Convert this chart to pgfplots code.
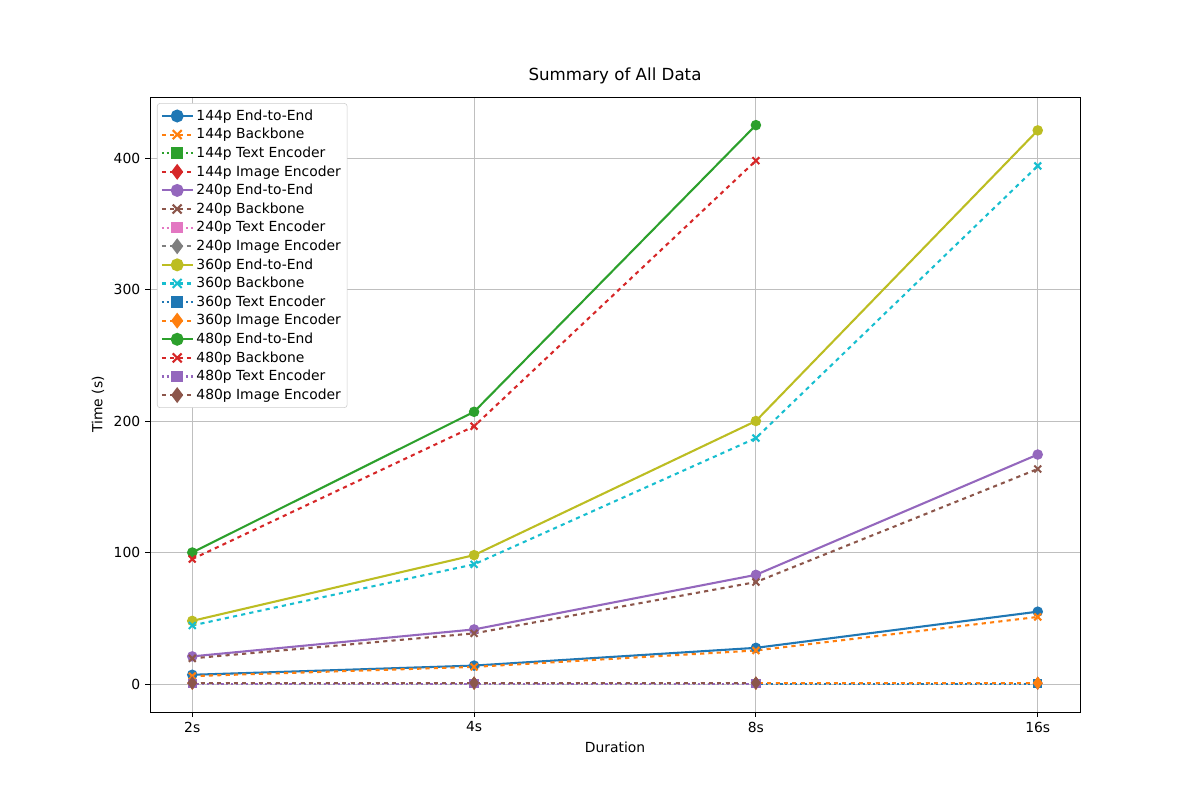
\documentclass[border=0pt]{standalone}
\usepackage{pgfplots}
\pgfplotsset{compat=1.18}
\usepackage{fontspec}
\setmainfont{DejaVu Sans}
\definecolor{C0}{HTML}{1F77B4}\definecolor{C1}{HTML}{FF7F0E}\definecolor{C2}{HTML}{2CA02C}
\definecolor{C3}{HTML}{D62728}\definecolor{C4}{HTML}{9467BD}\definecolor{C5}{HTML}{8C564B}
\definecolor{C6}{HTML}{E377C2}\definecolor{C7}{HTML}{7F7F7F}\definecolor{C8}{HTML}{BCBD22}
\definecolor{C9}{HTML}{17BECF}
\begin{document}
\begin{tikzpicture}
\path (-108pt,-63.36pt) rectangle ++(864pt,576pt);
\begin{axis}[
 scale only axis, width=669.6pt, height=442.8pt,
 xmin=-0.15, xmax=3.15, ymin=-21.3, ymax=446.4,
 xtick={0,1,2,3}, xticklabels={2s,4s,8s,16s},
 ytick={0,100,200,300,400},
 xtick pos=bottom, ytick pos=left,
 grid=major, grid style={color=gray!50, line width=0.6pt},
 tick align=outside, tick style={black, line width=0.6pt},
 major tick length=3.5pt,
 /pgf/number format/assume math mode=true,
 tick label style={font=\fontsize{10}{12}\selectfont},
 label style={font=\fontsize{10}{12}\selectfont},
 title style={font=\fontsize{12}{14}\selectfont},
 title={Summary of All Data}, xlabel={Duration}, ylabel={Time (s)},
 legend style={at={(0.0075,0.99)}, anchor=north west, font=\fontsize{10}{12}\selectfont, draw=gray!40, rounded corners=2pt, row sep=0.3pt, inner sep=2.5pt},
 legend image post style={scale=1.3},
 legend cell align=left,
 every axis plot/.append style={line width=1.5pt, mark size=3pt},
 mark options={solid},
]
\addplot[C0, mark=*] coordinates {(0,7) (1,14) (2,27.5) (3,55)};
\addlegendentry{144p End-to-End}
\addplot[C1, dashed, mark=x, mark size=3.5pt] coordinates {(0,6) (1,13) (2,25.5) (3,51)};
\addlegendentry{144p Backbone}
\addplot[C2, dotted, mark=square*, mark size=2.6pt] coordinates {(0,0.3) (1,0.3) (2,0.3) (3,0.3)};
\addlegendentry{144p Text Encoder}
\addplot[C3, dashed, mark=diamond*, mark size=3.5pt] coordinates {(0,0.5) (1,0.5) (2,0.5) (3,0.5)};
\addlegendentry{144p Image Encoder}
\addplot[C4, mark=*] coordinates {(0,21) (1,41.5) (2,83) (3,174.5)};
\addlegendentry{240p End-to-End}
\addplot[C5, dashed, mark=x, mark size=3.5pt] coordinates {(0,19.5) (1,38.5) (2,77.5) (3,163.5)};
\addlegendentry{240p Backbone}
\addplot[C6, dotted, mark=square*, mark size=2.6pt] coordinates {(0,0.3) (1,0.3) (2,0.3) (3,0.3)};
\addlegendentry{240p Text Encoder}
\addplot[C7, dashed, mark=diamond*, mark size=3.5pt] coordinates {(0,0.6) (1,0.6) (2,0.6) (3,0.6)};
\addlegendentry{240p Image Encoder}
\addplot[C8, mark=*] coordinates {(0,48) (1,98) (2,200) (3,421)};
\addlegendentry{360p End-to-End}
\addplot[C9, dashed, mark=x, mark size=3.5pt] coordinates {(0,44.5) (1,91) (2,187) (3,394)};
\addlegendentry{360p Backbone}
\addplot[C0, dotted, mark=square*, mark size=2.6pt] coordinates {(0,0.3) (1,0.3) (2,0.3) (3,0.3)};
\addlegendentry{360p Text Encoder}
\addplot[C1, dashed, mark=diamond*, mark size=3.5pt] coordinates {(0,0.7) (1,0.7) (2,0.7) (3,0.7)};
\addlegendentry{360p Image Encoder}
\addplot[C2, mark=*] coordinates {(0,100) (1,207) (2,425)};
\addlegendentry{480p End-to-End}
\addplot[C3, dashed, mark=x, mark size=3.5pt] coordinates {(0,95) (1,196) (2,398)};
\addlegendentry{480p Backbone}
\addplot[C4, dotted, mark=square*, mark size=2.6pt] coordinates {(0,0.3) (1,0.3) (2,0.3)};
\addlegendentry{480p Text Encoder}
\addplot[C5, dashed, mark=diamond*, mark size=3.5pt] coordinates {(0,0.8) (1,0.8) (2,0.8)};
\addlegendentry{480p Image Encoder}
\end{axis}
\end{tikzpicture}
\end{document}
